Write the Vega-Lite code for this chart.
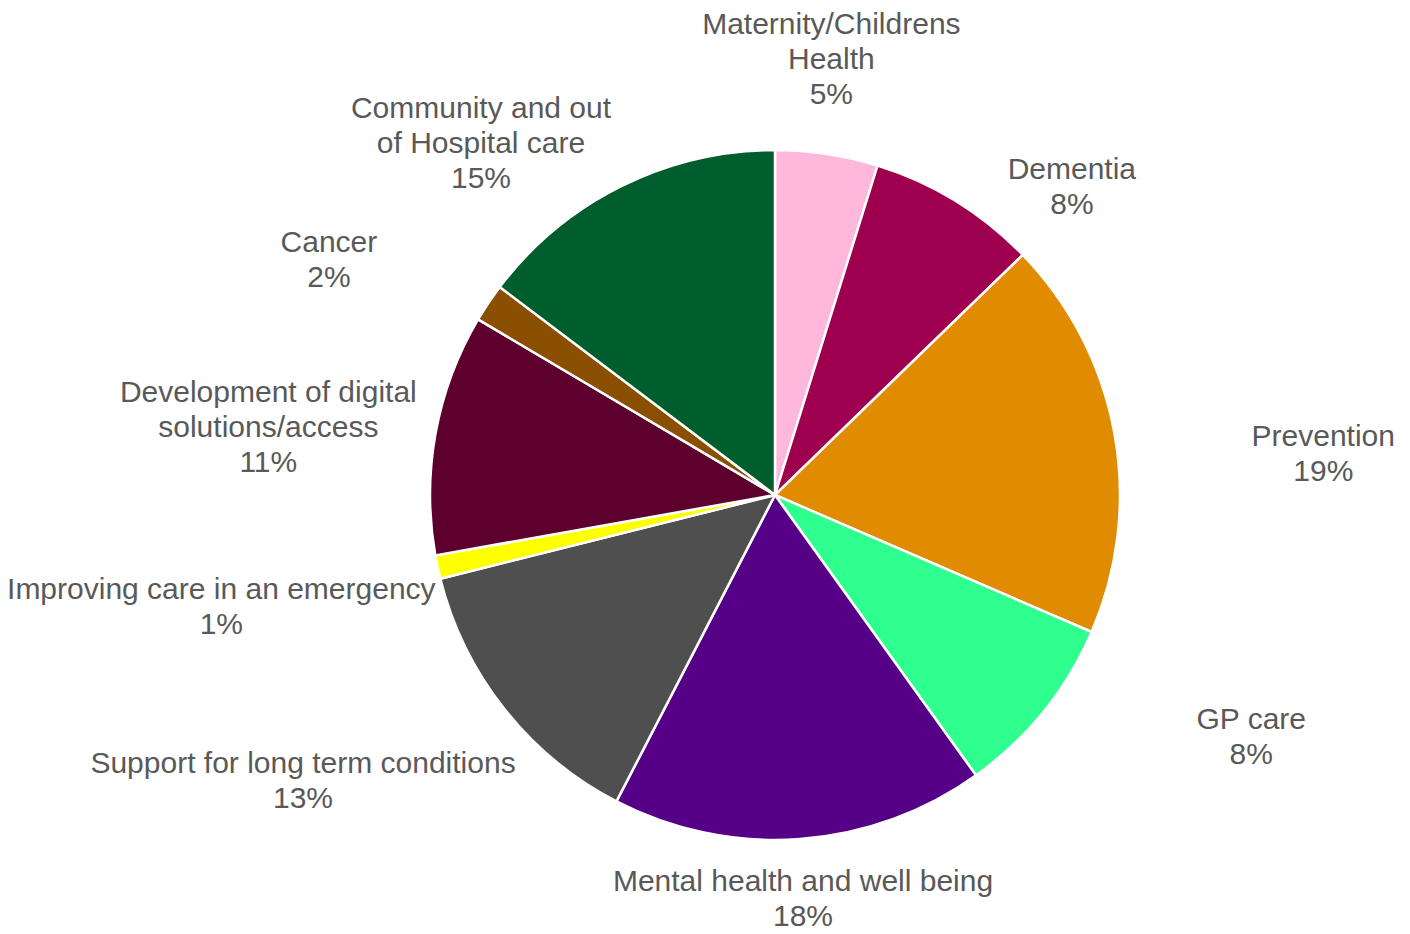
{
  "$schema": "https://vega.github.io/schema/vega-lite/v6.json",
  "width": 1270,
  "height": 878,
  "padding": {"left": 140, "top": 56, "right": 0, "bottom": 0},
  "autosize": {"type": "none"},
  "background": "white",
  "config": {
    "view": {"stroke": null},
    "text": {"font": "Liberation Sans", "fontSize": 30, "lineHeight": 35, "color": "#595959", "lineBreak": "\n", "align": "center", "baseline": "middle"}
  },
  "data": {
    "values": [
      {"order": 1, "category": "Maternity/Childrens Health", "value": 4.8, "label": "Maternity/Childrens\nHealth\n5%"},
      {"order": 2, "category": "Dementia", "value": 7.95, "label": "Dementia\n8%"},
      {"order": 3, "category": "Prevention", "value": 18.75, "label": "Prevention\n19%"},
      {"order": 4, "category": "GP care", "value": 8.6, "label": "GP care\n8%"},
      {"order": 5, "category": "Mental health and well being", "value": 17.5, "label": "Mental health and well being\n18%"},
      {"order": 6, "category": "Support for long term conditions", "value": 13.5, "label": "Support for long term conditions\n13%"},
      {"order": 7, "category": "Improving care in an emergency", "value": 1.1, "label": "Improving care in an emergency\n1%"},
      {"order": 8, "category": "Development of digital solutions/access", "value": 11.3, "label": "Development of digital\nsolutions/access\n11%"},
      {"order": 9, "category": "Cancer", "value": 1.8, "label": "Cancer\n2%"},
      {"order": 10, "category": "Community and out of Hospital care", "value": 14.7, "label": "Community and out\nof Hospital care\n15%"}
    ]
  },
  "encoding": {
    "theta": {"field": "value", "type": "quantitative", "stack": true},
    "order": {"field": "order", "type": "quantitative"}
  },
  "layer": [
    {
      "mark": {"type": "arc", "outerRadius": 345, "stroke": "white", "strokeWidth": 2.5},
      "encoding": {
        "color": {
          "field": "category",
          "type": "nominal",
          "sort": null,
          "scale": {
            "domain": [
              "Maternity/Childrens Health", "Dementia", "Prevention", "GP care",
              "Mental health and well being", "Support for long term conditions",
              "Improving care in an emergency", "Development of digital solutions/access",
              "Cancer", "Community and out of Hospital care"
            ],
            "range": ["#FFB7DC", "#9E004F", "#E08B00", "#2EFF8F", "#550086", "#4F4F4F", "#FFFF00", "#5E002E", "#8A4F00", "#005E2E"]
          },
          "legend": null
        }
      }
    },
    {
      "mark": {"type": "text", "radius": 475, "dx": -15},
      "encoding": {
        "text": {"field": "label", "type": "nominal"},
        "opacity": {"condition": {"test": "datum.category == 'Maternity/Childrens Health'", "value": 1}, "value": 0}
      }
    },
    {
      "mark": {"type": "text", "radius": 388},
      "encoding": {
        "text": {"field": "label", "type": "nominal"},
        "opacity": {"condition": {"test": "datum.category == 'Mental health and well being'", "value": 1}, "value": 0}
      }
    },
    {
      "mark": {"type": "text", "radius": 372, "dx": 102, "dy": -8},
      "encoding": {
        "text": {"field": "label", "type": "nominal"},
        "opacity": {"condition": {"test": "datum.category == 'Dementia'", "value": 1}, "value": 0}
      }
    },
    {
      "mark": {"type": "text", "radius": 351, "dx": 203, "dy": 5},
      "encoding": {
        "text": {"field": "label", "type": "nominal"},
        "opacity": {"condition": {"test": "indexof(['Prevention', 'GP care'], datum.category) >= 0", "value": 1}, "value": 0}
      }
    },
    {
      "mark": {"type": "text", "radius": 422, "dx": -141, "dy": 7},
      "encoding": {
        "text": {"field": "label", "type": "nominal"},
        "opacity": {"condition": {"test": "indexof(['Support for long term conditions', 'Improving care in an emergency'], datum.category) >= 0", "value": 1}, "value": 0}
      }
    },
    {
      "mark": {"type": "text", "radius": 395, "dx": -118, "dy": -32},
      "encoding": {
        "text": {"field": "label", "type": "nominal"},
        "opacity": {"condition": {"test": "indexof(['Development of digital solutions/access', 'Cancer', 'Community and out of Hospital care'], datum.category) >= 0", "value": 1}, "value": 0}
      }
    }
  ]
}
